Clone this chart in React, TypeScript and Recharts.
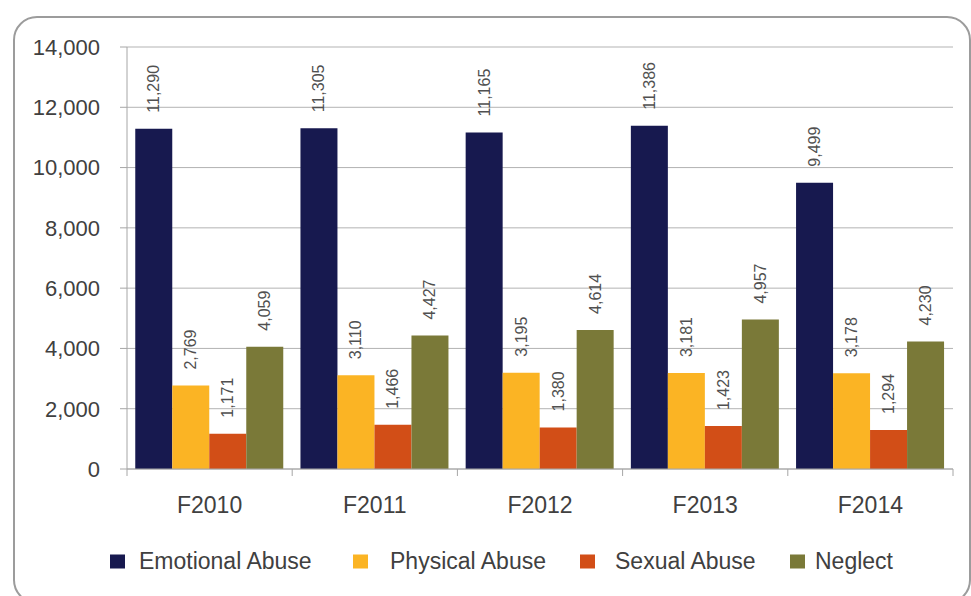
import React from "react"
import { BarChart, Bar, XAxis, YAxis, CartesianGrid, LabelList } from "recharts"

const years = ["F2010", "F2011", "F2012", "F2013", "F2014"]
const emotional = [11290, 11305, 11165, 11386, 9499]
const physical = [2769, 3110, 3195, 3181, 3178]
const sexual = [1171, 1466, 1380, 1423, 1294]
const neglect = [4059, 4427, 4614, 4957, 4230]
const yTicks = [0, 2000, 4000, 6000, 8000, 10000, 12000, 14000]

const seriesNames = ["Emotional Abuse", "Physical Abuse", "Sexual Abuse", "Neglect"]
const seriesKeys = ["emotional", "physical", "sexual", "neglect"]
const seriesColors = ["#17194f", "#fbb424", "#d24e17", "#7a7938"]

const data = years.map((name, i) => ({
  name,
  emotional: emotional[i],
  physical: physical[i],
  sexual: sexual[i],
  neglect: neglect[i],
}))

const FONT = '"Liberation Sans", Arial, sans-serif'
const fmt = (v: number) => v.toLocaleString("en-US")

function BarValue(props: any) {
  const { x, y, width, value } = props
  const cx = x + width / 2
  const cy = y - 16
  return (
    <text
      x={cx}
      y={cy}
      transform={`rotate(-90, ${cx}, ${cy})`}
      textAnchor="start"
      dominantBaseline="central"
      fontSize={16}
      fontFamily={FONT}
      fill="#505050"
    >
      {fmt(Number(value))}
    </text>
  )
}

function YearTick(props: any) {
  const { x, y, payload, index, visibleTicksCount } = props
  const half = payload?.offset || 82.6
  const last = index === visibleTicksCount - 1
  return (
    <g>
      <line x1={x - half} x2={x - half} y1={y} y2={y + 7} stroke="#a6a6a6" />
      {last && <line x1={x + half} x2={x + half} y1={y} y2={y + 7} stroke="#a6a6a6" />}
      <text x={x} y={y + 44} textAnchor="middle" fontSize={23} fontFamily={FONT} fill="#404040">
        {payload.value}
      </text>
    </g>
  )
}

export default function App() {
  const legendLeft = [110, 353, 580, 790]
  const textGap = [7, 15, 13, 3]
  return (
    <div style={{ position: "absolute", left: 0, top: 0, width: 971, height: 596, overflow: "hidden", background: "#fff" }}>
      <div
        style={{
          position: "absolute", left: 13, top: 16, width: 954, height: 584,
          border: "2px solid #9c9c9c", borderRadius: 24,
        }}
      />
      <BarChart
        width={971}
        height={596}
        data={data}
        margin={{ top: 47, right: 18, bottom: 87, left: 0 }}
        barCategoryGap="5%"
        barGap={0}
        style={{ position: "absolute", left: 0, top: 0 }}
      >
        <CartesianGrid vertical={false} stroke="#b3b3b3" />
        <YAxis
          width={127}
          domain={[0, 14000]}
          ticks={yTicks}
          tickFormatter={fmt}
          tickSize={7}
          tickMargin={20}
          tick={{ fontSize: 22, fontFamily: FONT, fill: "#404040" }}
          axisLine={{ stroke: "#a6a6a6" }}
          tickLine={{ stroke: "#a6a6a6" }}
        />
        <XAxis
          dataKey="name"
          height={40}
          tickSize={0}
          tickMargin={0}
          tickLine={false}
          axisLine={{ stroke: "#a6a6a6" }}
          tick={<YearTick />}
          interval={0}
        />
        {seriesKeys.map((k, i) => (
          <Bar key={k} dataKey={k} name={seriesNames[i]} fill={seriesColors[i]} isAnimationActive={false}>
            <LabelList dataKey={k} content={<BarValue />} />
          </Bar>
        ))}
      </BarChart>
      {seriesNames.map((n, i) => (
        <div
          key={n}
          style={{
            position: "absolute", left: legendLeft[i], top: 561, transform: "translateY(-50%)",
            display: "flex", alignItems: "center", fontFamily: FONT, fontSize: 23, color: "#404040",
            whiteSpace: "nowrap",
          }}
        >
          <span style={{ width: 15, height: 14, background: seriesColors[i], marginRight: textGap[i] + 7, display: "inline-block" }} />
          {n}
        </div>
      ))}
    </div>
  )
}
